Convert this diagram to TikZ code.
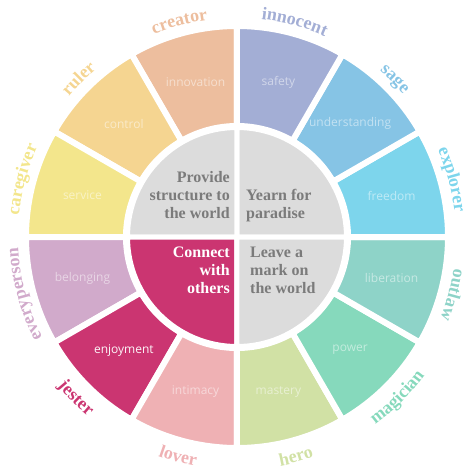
\documentclass[tikz,border=0pt]{standalone}
\usepackage{fontspec}
\setmainfont{Liberation Serif}
\newfontfamily\segfont{Open Sans}
\usepackage{xcolor}
\usetikzlibrary{decorations.text, math}

\definecolor{creatorc}{HTML}{EDBE9E}
\definecolor{rulerc}{HTML}{F5D591}
\definecolor{caregiverc}{HTML}{F3E68C}
\definecolor{everypersonc}{HTML}{D1AACB}
\definecolor{jesterc}{HTML}{CB3571}
\definecolor{loverc}{HTML}{EFB1B4}
\definecolor{heroc}{HTML}{D1E1A5}
\definecolor{magicianc}{HTML}{86D9BC}
\definecolor{outlawc}{HTML}{8ED3C8}
\definecolor{explorerc}{HTML}{7DD5EC}
\definecolor{sagec}{HTML}{86C4E5}
\definecolor{innocentc}{HTML}{A3AED5}
\definecolor{innergray}{HTML}{DCDCDC}
\definecolor{innertext}{HTML}{7B7B7B}

\newcommand{\archfont}{\fontsize{18}{18}\selectfont\bfseries}

\tikzset{
  segment/.style={draw=white, line width=6, line join=round},
  quarter/.style={draw=white, line width=5, line join=round},
  seglabel/.style={font=\segfont\fontsize{12}{12}\selectfont, text=white, inner sep=0},
  goal/.style={font=\fontsize{16}{18}\selectfont\bfseries, text=innertext, inner sep=0, anchor=north}
}

\begin{document}
\begin{tikzpicture}[x=1pt, y=1pt]
\tikzmath{
\ro=211;
\ri=111;
\rc=109.5;
\rt=219;
\rb=233;
\rw=160;
}
\useasboundingbox (-237,-238) rectangle (237,237);

\foreach \ang/\col/\word/\lab/\op in {
  105/creatorc/innovation/creator/0.5, 135/rulerc/control/ruler/0.5,
  165/caregiverc/service/caregiver/0.5, 195/everypersonc/belonging/everyperson/0.5,
  225/jesterc/enjoyment/jester/0.95, 255/loverc/intimacy/lover/0.5,
  285/heroc/mastery/hero/0.5, 315/magicianc/power/magician/0.5,
  345/outlawc/liberation/outlaw/0.5, 15/explorerc/freedom/explorer/0.5,
  45/sagec/understanding/sage/0.5, 75/innocentc/safety/innocent/0.5}
{
  \filldraw[segment, fill=\col] (\ang-15:\ri) arc[start angle=\ang-15, end angle=\ang+15, radius=\ri]
    -- (\ang+15:\ro) arc[start angle=\ang+15, end angle=\ang-15, radius=\ro] -- cycle;
  \node[seglabel, text opacity=\op] (w-\lab) at (\ang:\rw) {\word};
}

% names read clockwise over the top, anticlockwise under the bottom
\foreach \ang/\col/\lab in {105/creatorc/creator, 135/rulerc/ruler, 165/caregiverc/caregiver,
  195/everypersonc/everyperson, 75/innocentc/innocent, 45/sagec/sage, 15/explorerc/explorer,
  -15/outlawc/outlaw}
  \path[decorate, decoration={text along path, text align=center,
    text/.expanded={|\noexpand\archfont\noexpand\color{\col}|\lab}}]
    (\ang+40:\rt) arc[start angle=\ang+40, end angle=\ang-40, radius=\rt];

\foreach \ang/\col/\lab in {-135/jesterc/jester, -105/loverc/lover, -75/heroc/hero,
  -45/magicianc/magician}
  \path[decorate, decoration={text along path, text align=center,
    text/.expanded={|\noexpand\archfont\noexpand\color{\col}|\lab}}]
    (\ang-40:\rb) arc[start angle=\ang-40, end angle=\ang+40, radius=\rb];

\coordinate (O) at (0,0);
\filldraw[quarter, fill=innergray] (O) -- (0:\rc) arc[start angle=0, end angle=90, radius=\rc] -- cycle;
\filldraw[quarter, fill=innergray] (O) -- (90:\rc) arc[start angle=90, end angle=180, radius=\rc] -- cycle;
\filldraw[quarter, fill=jesterc] (O) -- (180:\rc) arc[start angle=180, end angle=270, radius=\rc] -- cycle;
\filldraw[quarter, fill=innergray] (O) -- (270:\rc) arc[start angle=270, end angle=360, radius=\rc] -- cycle;

\node[goal, anchor=north east, align=right] (structure) at (-7,66) {Provide\\structure to\\the world};
\node[goal, anchor=north west, align=left] (paradise) at (9,48) {Yearn for\\paradise};
\node[goal, anchor=north east, align=right, text=white] (connect) at (-7,-10) {Connect\\with\\others};
\node[goal, anchor=north west, align=left] (mark) at (13,-10) {Leave a\\mark on\\the world};
\end{tikzpicture}
\end{document}
